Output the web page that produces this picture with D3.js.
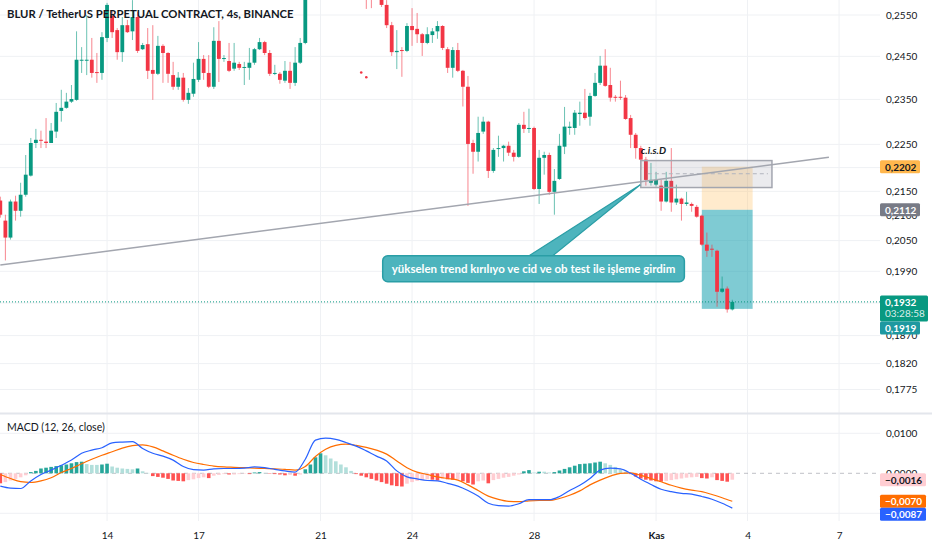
<!DOCTYPE html>
<html>
<head>
<meta charset="utf-8">
<script src="https://cdn.jsdelivr.net/npm/d3@7"></script>
<style>
  body { margin: 0; background: #fff; }
  text { font-family: Lato, "Noto Sans", sans-serif; }
</style>
</head>
<body>
<svg id="chart" width="932" height="550"></svg>
<script>
// BLUR/USDT perp, 4h candles, Oct 10 12:00 -> Nov 3 12:00 (index 0..144)
const open = [
  0.2131,0.2090,0.2056,0.2129,0.2110,0.2143,0.2183,0.2253,0.2260,0.2256,
  0.2253,0.2278,0.2324,0.2331,0.2345,0.2349,0.2440,0.2440,0.2442,0.2413,
  0.2411,0.2494,0.2548,0.2513,0.2460,0.2525,0.2510,0.2545,0.2467,0.2479,
  0.2418,0.2409,0.2475,0.2458,0.2406,0.2379,0.2400,0.2349,0.2363,0.2395,
  0.2444,0.2411,0.2379,0.2487,0.2444,0.2439,0.2421,0.2432,0.2423,0.2423,
  0.2435,0.2467,0.2484,0.2458,0.2409,0.2409,0.2393,0.2416,0.2388,0.2435,
  0.2482,0.2650,0.2625,0.2689,0.2663,0.2638,0.2668,0.2633,0.2612,0.2628,
  0.2607,0.2602,0.2600,0.2595,0.2592,0.2602,0.2575,0.2525,0.2460,0.2465,
  0.2463,0.2523,0.2516,0.2503,0.2482,0.2501,0.2510,0.2523,0.2467,0.2423,
  0.2465,0.2416,0.2379,0.2253,0.2234,0.2278,0.2300,0.2193,0.2240,0.2242,
  0.2247,0.2232,0.2223,0.2293,0.2284,0.2286,0.2155,0.2221,0.2227,0.2149,
  0.2176,0.2245,0.2286,0.2286,0.2317,0.2320,0.2311,0.2358,0.2388,0.2428,
  0.2383,0.2356,0.2356,0.2354,0.2308,0.2271,0.2242,0.2217,0.2168,0.2164,
  0.2162,0.2129,0.2172,0.2127,0.2135,0.2124,0.2124,0.2118,0.2100,0.2042,
  0.2034,0.2030,0.1951,0.1957,0.1918
]
const high = [
  0.2139,0.2102,0.2133,0.2141,0.2168,0.2227,0.2264,0.2284,0.2280,0.2308,
  0.2297,0.2342,0.2372,0.2365,0.2383,0.2510,0.2472,0.2550,0.2494,0.2458,
  0.2508,0.2580,0.2562,0.2518,0.2545,0.2538,0.2587,0.2557,0.2482,0.2518,
  0.2525,0.2499,0.2479,0.2460,0.2437,0.2413,0.2411,0.2376,0.2435,0.2484,
  0.2453,0.2453,0.2520,0.2535,0.2453,0.2482,0.2482,0.2437,0.2437,0.2470,
  0.2470,0.2494,0.2487,0.2465,0.2430,0.2413,0.2439,0.2437,0.2472,0.2494,
  0.2676,0.2702,0.2715,0.2728,0.2684,0.2689,0.2679,0.2650,0.2643,0.2638,
  0.2622,0.2617,0.2612,0.2607,0.2610,0.2612,0.2587,0.2533,0.2513,0.2472,
  0.2530,0.2567,0.2555,0.2506,0.2520,0.2518,0.2535,0.2525,0.2472,0.2472,
  0.2482,0.2418,0.2404,0.2260,0.2311,0.2311,0.2302,0.2242,0.2269,0.2249,
  0.2256,0.2238,0.2297,0.2322,0.2329,0.2289,0.2238,0.2234,0.2232,0.2197,
  0.2273,0.2333,0.2300,0.2326,0.2345,0.2374,0.2365,0.2411,0.2451,0.2467,
  0.2423,0.2360,0.2393,0.2360,0.2315,0.2275,0.2247,0.2223,0.2210,0.2191,
  0.2174,0.2191,0.2242,0.2164,0.2137,0.2149,0.2127,0.2122,0.2102,0.2066,
  0.2042,0.2032,0.1980,0.1961,0.1936
]
const low = [
  0.2096,0.2011,0.2052,0.2090,0.2098,0.2139,0.2181,0.2242,0.2242,0.2242,
  0.2253,0.2264,0.2300,0.2329,0.2342,0.2347,0.2411,0.2406,0.2400,0.2388,
  0.2395,0.2484,0.2494,0.2442,0.2437,0.2506,0.2489,0.2458,0.2465,0.2397,
  0.2349,0.2406,0.2388,0.2388,0.2372,0.2372,0.2345,0.2340,0.2356,0.2390,
  0.2395,0.2376,0.2374,0.2390,0.2437,0.2413,0.2416,0.2418,0.2383,0.2395,
  0.2430,0.2465,0.2453,0.2404,0.2406,0.2386,0.2388,0.2374,0.2381,0.2432,
  0.2479,0.2600,0.2612,0.2638,0.2617,0.2625,0.2612,0.2597,0.2600,0.2595,
  0.2590,0.2590,0.2565,0.2567,0.2590,0.2570,0.2518,0.2451,0.2420,0.2402,
  0.2460,0.2475,0.2482,0.2451,0.2479,0.2482,0.2492,0.2465,0.2411,0.2400,
  0.2413,0.2334,0.2120,0.2187,0.2213,0.2273,0.2178,0.2189,0.2223,0.2213,
  0.2225,0.2213,0.2221,0.2275,0.2275,0.2153,0.2124,0.2185,0.2143,0.2102,
  0.2174,0.2229,0.2271,0.2271,0.2291,0.2304,0.2291,0.2356,0.2383,0.2379,
  0.2345,0.2345,0.2349,0.2304,0.2242,0.2219,0.2195,0.2162,0.2162,0.2160,
  0.2110,0.2127,0.2108,0.2122,0.2090,0.2120,0.2108,0.2096,0.2040,0.2018,
  0.2018,0.1923,0.1949,0.1912,0.1916
]
const close = [
  0.2102,0.2056,0.2129,0.2110,0.2143,0.2185,0.2253,0.2260,0.2258,0.2253,
  0.2280,0.2322,0.2331,0.2345,0.2351,0.2442,0.2442,0.2442,0.2411,0.2411,
  0.2496,0.2575,0.2508,0.2460,0.2525,0.2508,0.2545,0.2463,0.2477,0.2416,
  0.2409,0.2475,0.2458,0.2409,0.2379,0.2400,0.2349,0.2365,0.2397,0.2444,
  0.2411,0.2379,0.2487,0.2444,0.2446,0.2416,0.2435,0.2423,0.2425,0.2435,
  0.2467,0.2484,0.2458,0.2409,0.2411,0.2395,0.2416,0.2388,0.2435,0.2482,
  0.2650,0.2625,0.2689,0.2663,0.2638,0.2668,0.2633,0.2612,0.2628,0.2607,
  0.2597,0.2595,0.2592,0.2590,0.2600,0.2575,0.2525,0.2460,0.2463,0.2463,
  0.2523,0.2513,0.2503,0.2482,0.2503,0.2510,0.2523,0.2470,0.2423,0.2465,
  0.2416,0.2379,0.2251,0.2234,0.2275,0.2300,0.2193,0.2238,0.2242,0.2247,
  0.2232,0.2223,0.2293,0.2284,0.2286,0.2155,0.2221,0.2227,0.2149,0.2172,
  0.2247,0.2289,0.2289,0.2320,0.2320,0.2308,0.2358,0.2388,0.2428,0.2381,
  0.2354,0.2354,0.2354,0.2306,0.2271,0.2242,0.2217,0.2174,0.2174,0.2174,
  0.2129,0.2172,0.2127,0.2135,0.2124,0.2127,0.2120,0.2098,0.2042,0.2030,
  0.2032,0.1951,0.1957,0.1918,0.1932
]

// MACD (12, 26, close): lines read every second candle, histogram every candle
const macdIdx = d3.range(0, 145, 2)
const macdLine = [
  -0.0032,-0.0037,-0.0038,-0.0019,-0.0003,0.0008,0.0020,0.0033,0.0050,0.0058,
  0.0064,0.0076,0.0078,0.0079,0.0062,0.0050,0.0043,0.0033,0.0017,0.0009,
  0.0008,0.0011,0.0012,0.0012,0.0013,0.0016,0.0014,0.0010,0.0006,0.0003,
  0.0035,0.0083,0.0088,0.0085,0.0077,0.0068,0.0056,0.0043,0.0031,0.0006,
  -0.0009,-0.0014,-0.0018,-0.0019,-0.0025,-0.0032,-0.0043,-0.0057,-0.0075,-0.0081,
  -0.0082,-0.0076,-0.0066,-0.0066,-0.0066,-0.0058,-0.0043,-0.0030,-0.0013,0.0008,
  0.0013,0.0011,0.0000,-0.0015,-0.0028,-0.0040,-0.0046,-0.0050,-0.0052,-0.0058,
  -0.0065,-0.0075,-0.0087
]
const signalLine = [
  -0.0003,-0.0013,-0.0021,-0.0023,-0.0019,-0.0011,0.0002,0.0012,0.0024,0.0035,
  0.0045,0.0054,0.0063,0.0069,0.0071,0.0066,0.0056,0.0045,0.0035,0.0027,
  0.0022,0.0018,0.0016,0.0015,0.0014,0.0013,0.0012,0.0011,0.0010,0.0008,
  0.0017,0.0042,0.0060,0.0070,0.0073,0.0070,0.0065,0.0058,0.0048,0.0031,
  0.0014,0.0003,-0.0003,-0.0009,-0.0013,-0.0017,-0.0029,-0.0043,-0.0057,-0.0065,
  -0.0070,-0.0071,-0.0069,-0.0068,-0.0068,-0.0063,-0.0055,-0.0044,-0.0029,-0.0017,
  -0.0007,0.0000,0.0001,-0.0005,-0.0013,-0.0021,-0.0030,-0.0037,-0.0042,-0.0046,
  -0.0053,-0.0061,-0.0070
]
const hist = [
  -0.0025,-0.0022,-0.0018,-0.0014,-0.0010,-0.0005,0.0003,0.0006,0.0012,0.0014,
  0.0016,0.0018,0.0020,0.0022,0.0025,0.0028,0.0029,0.0023,0.0021,0.0021,
  0.0022,0.0024,0.0017,0.0014,0.0012,0.0011,0.0010,0.0012,0.0005,0.0001,
  -0.0007,-0.0009,-0.0011,-0.0014,-0.0018,-0.0019,-0.0020,-0.0017,-0.0015,-0.0012,
  -0.0010,-0.0012,-0.0006,-0.0004,-0.0002,-0.0003,-0.0003,-0.0002,-0.0001,-0.0002,
  0.0002,0.0003,0.0001,-0.0001,-0.0002,-0.0003,-0.0005,-0.0004,-0.0006,-0.0003,
  0.0010,0.0022,0.0040,0.0050,0.0045,0.0037,0.0030,0.0022,0.0015,0.0006,
  -0.0002,-0.0006,-0.0010,-0.0014,-0.0018,-0.0022,-0.0026,-0.0030,-0.0032,-0.0033,
  -0.0026,-0.0022,-0.0019,-0.0017,-0.0015,-0.0016,-0.0018,-0.0014,-0.0015,-0.0016,
  -0.0016,-0.0020,-0.0024,-0.0028,-0.0020,-0.0018,-0.0025,-0.0017,-0.0014,-0.0011,
  -0.0009,-0.0006,-0.0003,0.0005,0.0008,0.0002,0.0004,0.0004,0.0002,0.0003,
  0.0007,0.0011,0.0015,0.0019,0.0023,0.0024,0.0025,0.0027,0.0029,0.0025,
  0.0021,0.0016,0.0010,0.0004,-0.0002,-0.0008,-0.0013,-0.0016,-0.0018,-0.0020,
  -0.0021,-0.0019,-0.0017,-0.0015,-0.0013,-0.0011,-0.0010,-0.0009,-0.0012,-0.0013,
  -0.0010,-0.0017,-0.0019,-0.0021,-0.0016
]

// axes
const dayIdx = [21, 39, 63, 81, 105, 129, 147, 165]
const dayLabels = ["14", "17", "21", "24", "28", "Kas", "4", "7"]
const priceTicks = [0.2550,0.2450,0.2350,0.2250,0.2200,0.2150,0.2100,0.2050,0.1990,0.1930,0.1870,0.1820,0.1775]
const macdTicks = [0.01, 0, -0.01]

// drawings
const trend = [[0, 0.2002], [163, 0.2222]]
const obBox = { from: 126, to: 151.8, top: 0.2215, bottom: 0.2158, mid: 0.2187 }
const position = { from: 138, to: 148, stop: 0.2202, entry: 0.2112, target: 0.1919 }
const dots = [[71, 0.2412], [72, 0.2401]]
const note = { idx: 104.9, price: 0.1995, tipIdx: 125.9, tipPrice: 0.2164,
  text: "yükselen trend kırılıyo ve cid ve ob test ile işleme girdim" }
const cisd = { idx: 126, price: 0.2229, text: "c.i.s.D" }
const lastPrice = 0.1932, countdown = "03:28:58"

const UP = "#089981", DOWN = "#F23645", GRID = "#eff1f4", TXT = "#131722"
const plotR = 880
const svg = d3.select("#chart")
const x = d3.scaleLinear().domain([0, 144]).range([0.3, 732.3])
const y = d3.scaleLog().domain([0.2550, 0.1775]).range([15, 389.5])
const ym = d3.scaleLinear().domain([0.01, -0.01]).range([433.3, 513.3])
const fmt = v => d3.format(".4f")(v).replace(".", ",")

const defs = svg.append("defs")
defs.append("clipPath").attr("id", "clipP").append("rect").attr("x", 0).attr("y", 0).attr("width", plotR).attr("height", 412)
defs.append("clipPath").attr("id", "clipM").append("rect").attr("x", 0).attr("y", 415).attr("width", plotR).attr("height", 106)

// grid
const grid = svg.append("g")
grid.selectAll("line.v").data(dayIdx).join("line")
  .attr("x1", d => x(d)).attr("x2", d => x(d)).attr("y1", 0).attr("y2", 521)
  .attr("stroke", GRID)
grid.selectAll("line.h").data(priceTicks).join("line")
  .attr("x1", 0).attr("x2", plotR).attr("y1", d => y(d)).attr("y2", d => y(d))
  .attr("stroke", GRID)
grid.selectAll("line.m").data([0.01, -0.01]).join("line")
  .attr("x1", 0).attr("x2", plotR).attr("y1", d => ym(d)).attr("y2", d => ym(d))
  .attr("stroke", GRID)
svg.append("rect").attr("x", 0).attr("y", 412.5).attr("width", 932).attr("height", 2).attr("fill", "#e3e6ec")

// price pane
const pp = svg.append("g").attr("clip-path", "url(#clipP)")

// position tool (short)
pp.append("rect")
  .attr("x", x(position.from)).attr("width", x(position.to) - x(position.from))
  .attr("y", y(position.stop)).attr("height", y(position.entry) - y(position.stop))
  .attr("fill", "rgba(255,190,90,0.3)")
pp.append("rect")
  .attr("x", x(position.from)).attr("width", x(position.to) - x(position.from))
  .attr("y", y(position.entry)).attr("height", y(position.target) - y(position.entry))
  .attr("fill", "rgba(0,151,167,0.5)")

// last price line
pp.append("line").attr("x1", 0).attr("x2", plotR).attr("y1", y(lastPrice)).attr("y2", y(lastPrice))
  .attr("stroke", UP).attr("stroke-dasharray", "1,2")

// candles
const candles = close.map((c, i) => ({ i, o: open[i], h: high[i], l: low[i], c }))
const col = d => d.c >= d.o ? UP : DOWN
pp.selectAll("line.wick").data(candles).join("line")
  .attr("x1", d => x(d.i)).attr("x2", d => x(d.i))
  .attr("y1", d => y(d.h)).attr("y2", d => y(d.l))
  .attr("stroke", col).attr("stroke-opacity", 0.6)
pp.selectAll("rect.body").data(candles).join("rect")
  .attr("x", d => x(d.i) - 1.9).attr("width", 3.8)
  .attr("y", d => y(Math.max(d.o, d.c)))
  .attr("height", d => Math.max(1, Math.abs(y(d.o) - y(d.c))))
  .attr("fill", col)
pp.selectAll("circle.dot").data(dots).join("circle")
  .attr("cx", d => x(d[0])).attr("cy", d => y(d[1])).attr("r", 1.3).attr("fill", DOWN)

// order block box
pp.append("rect")
  .attr("x", x(obBox.from)).attr("width", x(obBox.to) - x(obBox.from))
  .attr("y", y(obBox.top)).attr("height", y(obBox.bottom) - y(obBox.top))
  .attr("fill", "rgba(120,123,140,0.15)").attr("stroke", "#a3a6af").attr("stroke-width", 1.5)
pp.append("line")
  .attr("x1", x(obBox.from) + 7).attr("x2", x(obBox.to) - 4)
  .attr("y1", y(obBox.mid)).attr("y2", y(obBox.mid))
  .attr("stroke", "#b2b5be").attr("stroke-dasharray", "4,3")

// trend line
pp.append("line")
  .attr("x1", x(trend[0][0])).attr("y1", y(trend[0][1]))
  .attr("x2", x(trend[1][0])).attr("y2", y(trend[1][1]))
  .attr("stroke", "#a3a6af").attr("stroke-width", 1.5)

// c.i.s.d label
pp.append("text").attr("x", x(cisd.idx)).attr("y", y(cisd.price))
  .attr("font-size", 10).attr("font-weight", 700).attr("font-style", "italic")
  .attr("fill", TXT).text(cisd.text)

// callout
const cx = x(note.idx), cy = y(note.price)
const noteText = pp.append("text").attr("x", cx).attr("y", cy)
  .attr("text-anchor", "middle").attr("dominant-baseline", "central")
  .attr("font-size", 11.5).attr("font-weight", 700).attr("fill", "#fff")
  .text(note.text)
const tw = noteText.node().getComputedTextLength()
const bw = tw + 18, bh = 26
pp.insert("path", () => noteText.node())
  .attr("d", `M${cx - 6},${cy - bh / 2 + 1} L${x(note.tipIdx)},${y(note.tipPrice)} L${cx + 18},${cy - bh / 2 + 1} Z`)
  .attr("fill", "#4db4bd").attr("stroke", "#2a9ea6").attr("stroke-width", 1.2)
pp.insert("rect", () => noteText.node())
  .attr("x", cx - bw / 2).attr("y", cy - bh / 2).attr("width", bw).attr("height", bh)
  .attr("rx", 5).attr("fill", "#4db4bd").attr("stroke", "#2a9ea6").attr("stroke-width", 1.5)

// MACD pane
const mp = svg.append("g").attr("clip-path", "url(#clipM)")
mp.append("line").attr("x1", 0).attr("x2", plotR).attr("y1", ym(0)).attr("y2", ym(0))
  .attr("stroke", "#9598a1").attr("stroke-opacity", 0.6).attr("stroke-dasharray", "4,4")
const barCol = (v, i) => {
  const prev = i ? hist[i - 1] : 0
  return v >= 0 ? (v > prev ? "#26A69A" : "#B2DFDB") : (v < prev ? "#FF5252" : "#FFCDD2")
}
mp.selectAll("rect.hist").data(hist).join("rect")
  .attr("x", (d, i) => x(i) - 1.8).attr("width", 3.6)
  .attr("y", d => Math.min(ym(0), ym(d))).attr("height", d => Math.abs(ym(d) - ym(0)))
  .attr("fill", barCol)
const mline = d3.line().x((d, k) => x(macdIdx[k])).y(d => ym(d)).curve(d3.curveMonotoneX)
mp.append("path").attr("d", mline(signalLine)).attr("fill", "none").attr("stroke", "#FF6D00").attr("stroke-width", 1.2)
mp.append("path").attr("d", mline(macdLine)).attr("fill", "none").attr("stroke", "#2962FF").attr("stroke-width", 1.2)

// legends
svg.append("text").attr("x", 7).attr("y", 18).attr("font-size", 11.3).attr("font-weight", 700)
  .attr("fill", TXT).text("BLUR / TetherUS PERPETUAL CONTRACT, 4s, BINANCE")
svg.append("text").attr("x", 7).attr("y", 431).attr("font-size", 10.5)
  .attr("fill", TXT).text("MACD (12, 26, close)")

// price axis
const yAxis = svg.append("g").attr("transform", `translate(${plotR},0)`)
  .call(d3.axisRight(y).tickValues(priceTicks).tickFormat(fmt).tickSize(0).tickPadding(6))
const mAxis = svg.append("g").attr("transform", `translate(${plotR},0)`)
  .call(d3.axisRight(ym).tickValues(macdTicks).tickFormat(fmt).tickSize(0).tickPadding(6))
;[yAxis, mAxis].forEach(g => {
  g.select(".domain").remove()
  g.selectAll("text").attr("font-size", 10).attr("fill", TXT).attr("font-family", "Lato, sans-serif")
})

// time axis
const xAxis = svg.append("g").attr("transform", "translate(0,528)")
  .call(d3.axisBottom(x).tickValues(dayIdx).tickFormat((d, i) => dayLabels[i]).tickSize(0).tickPadding(4))
xAxis.select(".domain").remove()
xAxis.selectAll("text").attr("font-size", 10).attr("fill", TXT).attr("font-family", "Lato, sans-serif")
  .attr("font-weight", (d, i) => dayLabels[i] === "Kas" ? 700 : 400)

// badges on scales
function badge(yc, fill, color, lines, w) {
  const h = 13 * lines.length
  const g = svg.append("g")
  g.append("rect").attr("x", plotR).attr("y", yc - 6.5).attr("width", w).attr("height", h).attr("rx", 1.5).attr("fill", fill)
  lines.forEach((t, k) => g.append("text").attr("x", plotR + 5).attr("y", yc + k * 11.5)
    .attr("dominant-baseline", "central").attr("font-size", 10).attr("font-weight", k ? 400 : 700)
    .attr("fill", color).attr("fill-opacity", k ? 0.85 : 1).text(t))
  return yc - 6.5 + h
}
badge(y(position.stop), "#FFB74D", TXT, [fmt(position.stop)], 40)
badge(y(position.entry), "#787B86", "#fff", [fmt(position.entry)], 40)
const lastBottom = badge(y(lastPrice), UP, "#fff", [fmt(lastPrice), countdown], 48)
badge(Math.max(y(position.target), lastBottom + 6.5), "#1E98A0", "#fff", [fmt(position.target)], 40)

const hLast = hist[hist.length - 1], sLast = signalLine[signalLine.length - 1], mLast = macdLine[macdLine.length - 1]
let b = badge(ym(hLast), "#FFCDD2", TXT, [fmt(hLast)], 46)
b = badge(Math.max(ym(sLast), b + 6.5), "#FF6D00", "#fff", [fmt(sLast)], 46)
badge(Math.max(ym(mLast), b + 6.5), "#2962FF", "#fff", [fmt(mLast)], 46)
</script>
</body>
</html>
